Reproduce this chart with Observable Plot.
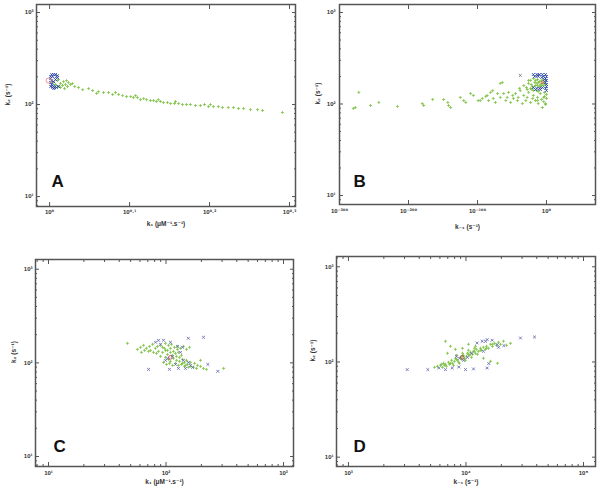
<!DOCTYPE html>
<html><head><meta charset="utf-8">
<script src="https://cdn.jsdelivr.net/npm/d3@7"></script>
<script src="https://cdn.jsdelivr.net/npm/@observablehq/plot@0.6"></script>
<style>
body{margin:0;background:#fff;}
#wrap{position:relative;width:600px;height:494px;overflow:hidden;background:#fff;}
#wrap svg{position:absolute;}
</style></head><body><div id="wrap"></div>
<script>
// ---------- tick exponents ----------
const yTickExp = [1, 2, 3];
const xTickExpA = [0, 0.1, 0.2, 0.3];
const xTickExpB = [-300, -200, -100, 0];
const xTickExpC = [1, 2, 3];
const xTickExpD = [3, 4, 5];
const xLabelK1 = "k\u2081 (\u03bcM\u207b\u00b9.s\u207b\u00b9)";
const xLabelKm1 = "k\u208b\u2081 (s\u207b\u00b9)";
const yLabelK2 = "k\u2082 (s\u207b\u00b9)";
const letters = ["A", "B", "C", "D"];

// ---------- Panel A data [k1, k2] ----------
const greenA = [[1.009,173],[1.017,165],[1.023,182],[1.026,157],[1.032,169],[1.038,161],[1.041,177],[1.047,165],[1.053,157],[1.056,173],[1.062,165],[1.068,169],[1.017,153],[1.032,153],[1.044,149],[1.026,187],[1.050,182],[1.075,157],[1.087,153],[1.100,145],[1.119,149],[1.132,142],[1.151,138],[1.168,135],[1.185,135],[1.199,128.5],[1.220,128.5],[1.234,125],[1.248,122],[1.263,122],[1.273,119],[1.288,119],[1.299,113],[1.311,116],[1.322,113],[1.337,110.5],[1.349,110.5],[1.360,108],[1.376,108],[1.388,105],[1.404,105],[1.417,102.5],[1.433,102.5],[1.450,102.5],[1.466,100],[1.483,100],[1.500,100],[1.522,97.5],[1.544,97.5],[1.562,100],[1.580,95],[1.603,95],[1.626,95],[1.645,92.7],[1.673,92.7],[1.698,92.7],[1.723,90.5],[1.748,90.5],[1.783,88],[1.820,88],[1.846,86],[1.955,82],[1.281,125],[1.368,113],[1.437,108],[1.209,135],[1.145,132],[1.589,100]];
const blueA = [[1.006,212],[1.012,212],[1.017,212],[1.023,206],[1.003,201],[1.009,201],[1.020,201],[1.003,192],[1.006,182],[1.003,173],[1.006,165],[1.003,157],[1.009,153],[1.014,153],[1.020,153],[1.026,157],[1.012,149],[1.017,157],[1.012,177],[1.017,187],[1.023,196],[1.009,161]];
const redA = [[0.997,182]];

// ---------- Panel B data [k-1, k2] ----------
const greenB = [[1e-280,89.3],[1e-277,91.6],[1e-272,134],[1e-255,96.3],[1e-243,104],[1e-216,94],[1e-180,101],[1e-178,96.3],[1e-165,112],[1e-149,112],[1e-143,104],[1e-142,96.3],[1e-139,91.6],[1e-125,118],[1e-120,109],[1e-117,104],[1e-110,130],[1e-106,124],[1e-99,109],[1e-93,115],[1e-88,121],[1e-86,124],[1e-84,109],[1e-78,140],[1e-77,115],[1e-74,104],[1e-71,130],[1e-67,118],[1e-64,172],[1e-62,130],[1e-59,109],[1e-57,118],[1e-55,134],[1e-52,104],[1e-49,124],[1e-48,115],[1e-45,130],[1e-42,109],[1e-41,118],[1e-38,140],[1e-35,101],[1e-33,124],[1e-30,109],[1e-28,118],[1e-26,134],[1e-23,104],[1e-20,115],[1e-19,124],[1e-16,109],[1e-13,118],[1e-12,101],[1e-9,130],[1e-7,112],[1e-4,106],[1e-3,121],[0.04,98.8],[1,115],[1,127],[1e-39,148],[1e-29,151],[1e-22,144],[1e-14,140],[1e-96,109],[1e-81,134],[1e-67,168],[1e-33,159],[1e-26,181],[1e-13,109],[1e-6,91.6],[0.04,101],[1e-4,118],
[1e-19,190],[1e-16,181],[1e-13,185],[1e-10,176],[1e-7,181],[1e-4,185],[1e-17,172],[1e-14,168],[1e-12,172],[1e-9,163],[1e-6,168],[1e-3,172],[1e-16,159],[1e-13,159],[1e-10,155],[1e-7,159],[1e-4,159],[0.04,163],[1e-23,181],[1e-26,168],[1e-22,163],[1e-20,155],[1e-23,148],[1e-28,144],[1e-19,140],[1e-12,137],[1e-3,134]];
const blueB = [[1e-19,210],[1e-14,210],[1e-10,210],[1e-6,210],[0.04,210],[1e-17,200],[1e-12,200],[1e-4,200],[1,200],[0.04,190],[1,181],[0.04,172],[1,163],[1,155],[1e-19,151],[1e-14,148],[1e-10,148],[1e-6,151],[0.04,148],[1,140],[1e-9,144],[1e-16,144],[1e-3,185],[1e-13,205],[1e-7,195]];
const grayB = [[1e-38,205]];
const redB = [[1e-6,172]];

// ---------- Panel C data [k1, k2] ----------
const greenC = [[47,161.7],[57.1,139.4],[60.7,146.5],[64.4,153.9],[68.2,143],[72.4,150],[76.8,158],[73.8,136],[81.4,143],[84.7,150],[89.8,153.9],[93.4,146.5],[99,161.7],[105,153.9],[111.3,158],[118,146.5],[125.2,150],[132.7,143],[140.8,150],[149.4,139.4],[158.4,146.5],[86.3,132.7],[93.4,129.5],[99,136],[103,123],[109,129.5],[113.5,120.2],[120.4,126.3],[127.6,129.5],[135.4,120.2],[99,114.5],[105,109],[109,103.8],[115.8,111.8],[122.7,106.4],[130.2,114.5],[138,109],[143.6,101.2],[95.2,101.2],[101,96.3],[107,98.8],[113.5,94.1],[120.4,98.8],[127.6,94.1],[135.4,96.3],[143.6,91.8],[152.3,96.3],[161.6,91.8],[171.5,89.6],[181.9,87.3],[149.4,106.4],[161.6,101.2],[174.9,98.8],[185.5,94.1],[196.6,91.8],[208.5,87.3],[89.8,117.5],[83,126.3],[78.3,129.5],[71,132.7],[65.6,136],[61.8,129.5],[196.6,106.4],[221,85.2],[309,87.3],[103,136],[109,143],[115.8,132.7],[122.7,117.5],[130.2,103.8],[138,98.8],[146.5,94.1],[155,89.6],[97.1,143],[125.2,139.4]];
const blueC = [[71,85.2],[155,183],[208.5,187.5],[227,96.3],[276,81.1],[107,85.2],[127.6,87.3],[146.5,87.3],[168,89.6],[86.3,174],[95.2,174],[81.4,166],[109,166],[125.2,150],[138,146.5],[103,111.8],[113.5,117.5],[99,106.4],[155,101.2],[161.6,94.1],[89.8,158],[120.4,96.3],[132.7,129.5],[140.8,106.4]];
const redC = [[109,114.5]];

// ---------- Panel D data [k-1, k2] ----------
const greenD = [[6070,92.3],[6310,87.9],[6440,96.9],[6690,94.6],[6820,90.1],[7100,99.3],[7240,94.6],[7530,104.2],[7680,96.9],[7980,101.7],[8140,109.3],[8470,104.2],[8640,99.3],[8980,112],[9160,106.7],[9520,117.5],[9710,109.3],[10100,114.7],[10300,123.4],[10710,117.5],[10920,126.4],[11360,120.4],[11580,129.5],[12040,123.4],[12280,135.9],[12770,129.5],[13280,139.3],[13540,132.7],[14080,142.7],[14650,135.9],[14940,146.2],[15530,139.3],[16170,153.4],[16810,146.2],[17490,157],[18190,149.7],[18920,161],[19680,153.4],[20860,165],[5720,90.1],[5400,87.9],[7830,92.3],[8810,96.9],[9910,104.2],[11140,112],[12520,120.4],[11810,139.3],[10500,132.7],[9340,123.4],[8300,117.5],[6690,165],[7380,146.2],[8140,135.9],[6960,123.4],[9340,139.3],[10500,153.4],[12040,146.2],[14080,109.3],[16170,101.7],[18540,96.9],[22120,149.7],[23920,157],[6190,94.6],[6560,92.3],[7380,96.9],[8300,106.7],[9340,114.7],[10500,120.4],[11810,129.5],[13280,132.7],[14940,139.3],[16810,153.4]];
const blueD = [[3160,83.2],[4730,83.2],[5870,86.5],[6690,83.2],[7640,86.5],[8690,88.6],[9910,83.2],[11580,84.5],[15630,96.2],[15140,86.5],[12440,158.2],[13730,165],[15140,171.8],[16700,169],[18430,152.4],[21000,148.6],[29100,178.6],[38300,183],[11140,123.4],[10300,112],[14080,129.5],[18920,142.7],[14650,165],[8810,109.3],[9520,104.2],[8300,114.7]];
const redD = [[9290,112]];

// ---------- helpers ----------
const SUP = {"0":"\u2070","1":"\u00b9","2":"\u00b2","3":"\u00b3","4":"\u2074","5":"\u2075","6":"\u2076","7":"\u2077","8":"\u2078","9":"\u2079","-":"\u207b",".":"\u00b7"};
const powLabel = v => { const e = Math.round(Math.log10(v) * 10) / 10; return "10" + String(e).split("").map(c => SUP[c]).join(""); };
function minorTicks(dom) {
  const out = [];
  const lo = Math.floor(Math.log10(dom[0])), hi = Math.ceil(Math.log10(dom[1]));
  for (let e = lo; e < hi; e++) for (let m = 2; m <= 9; m++) { const v = m * Math.pow(10, e); if (v > dom[0] && v < dom[1]) out.push(v); }
  return out;
}
const FONT = "'Liberation Sans', Arial, 'DejaVu Sans', sans-serif";
const GREEN = "#7cc242";

function panel(p) {
  const xT = p.xExp.map(e => Math.pow(10, e));
  const yT = yTickExp.map(e => Math.pow(10, e));
  const yMin = minorTicks(p.yDomain);
  const xMin = p.xMinor ? minorTicks(p.xDomain) : [];
  const tk = {stroke: "#555", strokeWidth: 1, label: null, tickFormat: () => "", tickPadding: 0};
  const lab = {tickSize: 0, label: null, tickFormat: powLabel, fill: "#333", fontSize: 6, fontWeight: "bold"};
  const marks = [
    Plot.frame({stroke: "#555", strokeWidth: 1.5}),
    Plot.axisX({...lab, ticks: xT, anchor: "bottom", tickPadding: p.xPad}),
    Plot.axisY({...lab, ticks: yT, anchor: "left", tickPadding: p.yPad}),
    Plot.axisX({...tk, ticks: xT, anchor: "bottom", tickSize: -4}),
    Plot.axisX({...tk, ticks: xT, anchor: "top", tickSize: -4}),
    Plot.axisY({...tk, ticks: yT, anchor: "left", tickSize: -4}),
    Plot.axisY({...tk, ticks: yT, anchor: "right", tickSize: -4}),
    Plot.axisY({...tk, ticks: yMin, anchor: "left", tickSize: -2}),
    Plot.axisY({...tk, ticks: yMin, anchor: "right", tickSize: -2})
  ];
  if (xMin.length) {
    marks.push(Plot.axisX({...tk, ticks: xMin, anchor: "bottom", tickSize: -2}));
    marks.push(Plot.axisX({...tk, ticks: xMin, anchor: "top", tickSize: -2}));
  }
  marks.push(
    Plot.dot(p.green, {x: d => d[0], y: d => d[1], symbol: "plus", r: 1.05, stroke: GREEN, strokeWidth: 0.8}),
    Plot.dot(p.blue, {x: d => d[0], y: d => d[1], symbol: "times", r: 1.4, stroke: p.blueColor, strokeWidth: 0.9}),
  );
  if (p.gray) marks.push(Plot.dot(p.gray, {x: d => d[0], y: d => d[1], symbol: "times", r: 1.4, stroke: "#777", strokeWidth: 0.9}));
  marks.push(
    Plot.dot(p.red, {x: d => d[0], y: d => d[1], r: p.redR, stroke: p.redColor, strokeWidth: 0.9, fill: "none"}),
    Plot.text([p.xLabel], {text: d => d, frameAnchor: "bottom", dy: p.xLabDy, fontSize: 6.5, fontWeight: "bold", fill: "#333"}),
    Plot.text([yLabelK2], {text: d => d, frameAnchor: "left", dx: p.yLabDx, rotate: -90, fontSize: 6.5, fontWeight: "bold", fill: "#333"}),
    Plot.text([p.letter], {text: d => d, frameAnchor: "bottom-left", dx: p.letDx, dy: p.letDy, textAnchor: "start", lineAnchor: "bottom", fontSize: 17, fontWeight: "bold", fill: "#111"})
  );
  const svg = Plot.plot({
    width: p.width, height: p.height,
    marginTop: p.m[0], marginRight: p.m[1], marginBottom: p.m[2], marginLeft: p.m[3],
    x: {type: "log", domain: p.xDomain},
    y: {type: "log", domain: p.yDomain},
    style: {fontFamily: FONT, fontSize: "6px", background: "transparent", overflow: "visible"},
    marks
  });
  svg.style.left = p.left + "px";
  svg.style.top = p.top + "px";
  document.getElementById("wrap").appendChild(svg);
}

panel({left: 0, top: 0, width: 300, height: 240, m: [4, 5, 34, 36],
  xDomain: [0.963, 2.03], yDomain: [7.8, 1222], xExp: xTickExpA, xMinor: false,
  xPad: 3, yPad: 3, xLabel: xLabelK1, xLabDy: 19, yLabDx: -29, letter: letters[0], letDx: 15, letDy: -20,
  green: greenA, blue: blueA, blueColor: "#2f4aa8", red: redA, redColor: "#f08a8a", redR: 2.5});
panel({left: 300, top: 0, width: 300, height: 240, m: [4, 5, 36, 39],
  xDomain: [1e-300, 1e71], yDomain: [7.98, 1222], xExp: xTickExpB, xMinor: false,
  xPad: 4, yPad: 4, xLabel: xLabelKm1, xLabDy: 24, yLabDx: -22, letter: letters[1], letDx: 14, letDy: -18,
  green: greenB, blue: blueB, blueColor: "#2f4aa8", gray: grayB, red: redB, redColor: "#d9534f", redR: 1.3});
panel({left: 0, top: 247, width: 300, height: 247, m: [12, 7, 28, 35],
  xDomain: [7.75, 1216], yDomain: [7.82, 1270], xExp: xTickExpC, xMinor: true,
  xPad: 4, yPad: 3, xLabel: xLabelK1, xLabDy: 17, yLabDx: -22, letter: letters[2], letDx: 18, letDy: -15,
  green: greenC, blue: blueC, blueColor: "#6a6db6", red: redC, redColor: "#b04a4a", redR: 1.8});
panel({left: 300, top: 247, width: 300, height: 247, m: [9, 5, 28, 36],
  xDomain: [791, 126500], yDomain: [7.98, 1282], xExp: xTickExpD, xMinor: true,
  xPad: 4, yPad: 3, xLabel: xLabelKm1, xLabDy: 17, yLabDx: -24, letter: letters[3], letDx: 17, letDy: -15,
  green: greenD, blue: blueD, blueColor: "#6a6db6", red: redD, redColor: "#b04a4a", redR: 1.8});
</script></body></html>
